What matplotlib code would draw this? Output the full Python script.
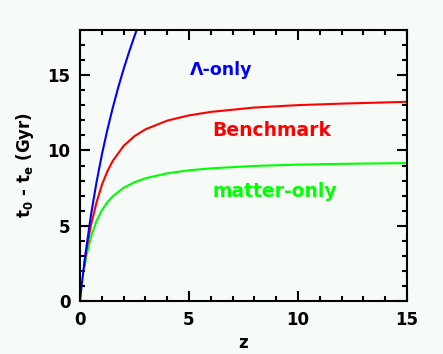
import matplotlib
matplotlib.use("Agg")
import matplotlib.pyplot as plt
from matplotlib.ticker import MultipleLocator

# Data
z_lambda = [0.0, 0.1, 0.25, 0.5, 0.75, 1.0, 1.25, 1.5, 1.75, 2.0, 2.25, 2.5, 2.6]
t_lambda = [0.0, 1.33, 3.12, 5.68, 7.83, 9.70, 11.34, 12.82, 14.17, 15.40, 16.54, 17.60, 17.99]

z_bench = [0.2, 0.3, 0.5, 0.75, 1.0, 1.25, 1.5, 2.0, 2.5, 3.0, 4.0, 5.0, 6.0, 8.0, 10.0, 12.0, 15.0]
t_bench = [2.45, 3.45, 5.02, 6.50, 7.70, 8.60, 9.30, 10.30, 10.95, 11.40, 11.98, 12.33, 12.56, 12.85, 13.01, 13.11, 13.23]

z_matter = [0.2, 0.3, 0.5, 0.75, 1.0, 1.25, 1.5, 2.0, 2.5, 3.0, 4.0, 5.0, 6.0, 8.0, 10.0, 12.0, 15.0]
t_matter = [2.23, 3.03, 4.24, 5.29, 6.02, 6.55, 6.95, 7.52, 7.89, 8.15, 8.48, 8.68, 8.81, 8.97, 9.06, 9.11, 9.16]

labels = ["\u039b-only", "Benchmark", "matter-only"]
colors = ["#0000ff", "#ff0000", "#00ff00"]

bg = "#f6fbf7"
fig = plt.figure(figsize=(4.43, 3.54), dpi=100, facecolor=bg)
ax = fig.add_axes([80/443, 53/354, 327/443, 271/354], facecolor=bg)

ax.plot(z_matter, t_matter, color=colors[2], lw=1.5)
ax.plot(z_bench, t_bench, color=colors[1], lw=1.5)
ax.plot(z_lambda, t_lambda, color=colors[0], lw=1.5)

ax.set_xlim(0, 15)
ax.set_ylim(0, 18)
ax.xaxis.set_major_locator(MultipleLocator(5))
ax.xaxis.set_minor_locator(MultipleLocator(1))
ax.yaxis.set_major_locator(MultipleLocator(5))
ax.yaxis.set_minor_locator(MultipleLocator(1))
ax.tick_params(which="both", direction="in", top=True, right=True, width=1.5, color="black")
ax.tick_params(which="major", length=7.2, labelsize=12, pad=7)
ax.tick_params(which="minor", length=3.6)
for s in ax.spines.values():
    s.set_linewidth(1.5)
for lab in ax.get_xticklabels() + ax.get_yticklabels():
    lab.set_fontweight("bold")

ax.set_xlabel("z", fontsize=12, fontweight="bold", labelpad=4)
ax.set_ylabel("t$_\\mathbf{0}$ - t$_\\mathbf{e}$ (Gyr)", fontsize=12, fontweight="bold", labelpad=8)

ax.text(5.05, 15.34, labels[0], color=colors[0], fontsize=12.5, fontweight="bold", va="center", ha="left")
ax.text(6.06, 11.35, labels[1], color=colors[1], fontsize=13.5, fontweight="bold", va="center", ha="left")
ax.text(6.06, 7.24, labels[2], color=colors[2], fontsize=13.5, fontweight="bold", va="center", ha="left")

fig.savefig("out.png", dpi=100, facecolor=bg)
